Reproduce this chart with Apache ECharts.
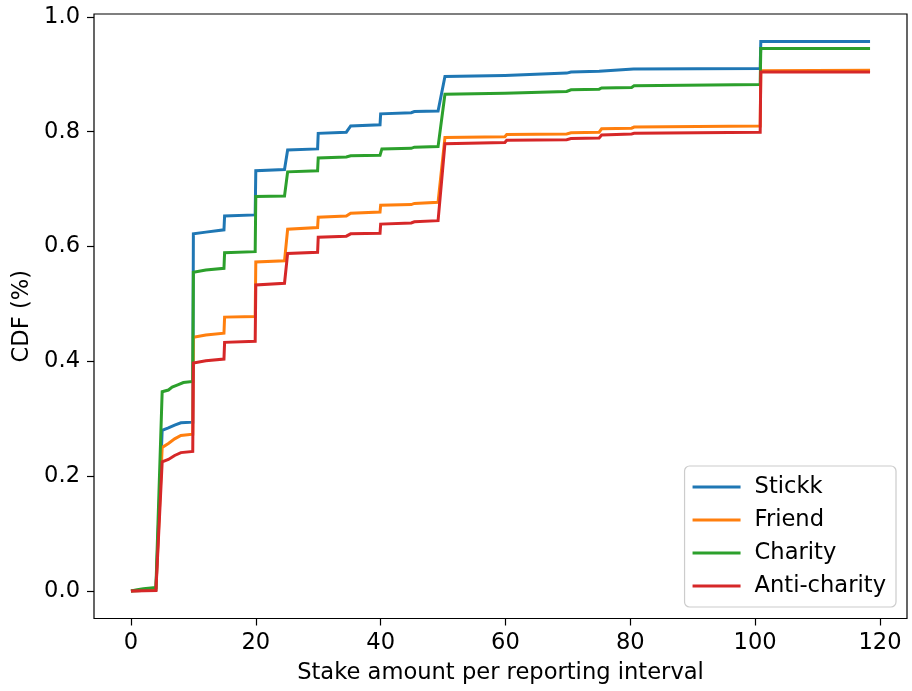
<!DOCTYPE html>
<html>
<head>
<meta charset="utf-8">
<script src="https://cdn.jsdelivr.net/npm/echarts@6/dist/echarts.min.js"></script>
<style>
html,body{margin:0;padding:0;background:#fff;}
#chart{width:912px;height:691px;}
</style>
</head>
<body>
<div id="chart"></div>
<script>
// ---- data (empirical CDF points: [stake amount, cumulative fraction]) ----
const seriesNames = ['Stickk', 'Friend', 'Charity', 'Anti-charity'];
const xTicks = [0, 20, 40, 60, 80, 100, 120];
const yTicks = [0, 0.2, 0.4, 0.6, 0.8, 1.0];

const stickk = [
  [0,0],[4,0.002],[5,0.280],[6,0.284],[7,0.289],[8,0.293],[9.9,0.294],
  [10,0.622],[12,0.625],[14.9,0.629],[15,0.653],[19.9,0.655],
  [20,0.732],[24.6,0.734],[25.1,0.768],[29.9,0.770],
  [30,0.797],[34.5,0.799],[35.2,0.810],[39.9,0.812],
  [40,0.831],[44.9,0.833],[45.4,0.835],[49.2,0.836],
  [50.3,0.896],[59.9,0.898],[60.2,0.900],[69.8,0.902],[70.5,0.904],
  [75,0.905],[75.3,0.908],[80.5,0.909],[100.8,0.910],
  [100.9,0.957],[118.4,0.957]
];
const friend = [
  [0,0],[4,0.002],[5,0.250],[6,0.257],[7,0.265],[8,0.271],[9.9,0.273],
  [10,0.442],[12,0.446],[14.9,0.449],[15,0.477],[19.9,0.478],
  [20,0.573],[24.6,0.575],[25.1,0.630],[29.9,0.633],
  [30,0.651],[34.5,0.653],[35.2,0.658],[39.9,0.660],
  [40,0.672],[44.9,0.673],[45.4,0.675],[49.2,0.677],
  [50.3,0.790],[59.9,0.791],[60.2,0.795],[69.8,0.796],[70.5,0.798],
  [75,0.799],[75.4,0.805],[80.2,0.806],[80.6,0.808],[100.8,0.810],
  [100.9,0.906],[118.4,0.907]
];
const charity = [
  [0,0],[1,0.002],[2,0.004],[4,0.006],[5,0.347],[6,0.350],[6.6,0.355],[7.5,0.359],[8.4,0.363],[9.9,0.365],
  [10,0.555],[12,0.559],[14.9,0.562],[15,0.589],[19.9,0.591],
  [20,0.687],[24.6,0.688],[25.1,0.730],[29.9,0.732],
  [30,0.754],[34.5,0.756],[35.2,0.758],[39.9,0.759],
  [40.2,0.770],[44.9,0.771],[45.4,0.773],[49.2,0.774],
  [50.3,0.865],[59.9,0.867],[60.2,0.869],[69.8,0.870],[70.5,0.873],
  [75,0.874],[75.4,0.876],[80.2,0.877],[80.6,0.880],[100.8,0.882],
  [100.9,0.945],[118.4,0.945]
];
const antiCharity = [
  [0,0],[4,0.001],[5,0.225],[6,0.229],[7,0.236],[8,0.241],[9.9,0.243],
  [10,0.397],[12,0.401],[14.9,0.404],[15,0.433],[19.9,0.435],
  [20,0.533],[24.6,0.536],[25.1,0.588],[29.9,0.590],
  [30,0.616],[34.5,0.618],[35.2,0.622],[39.9,0.623],
  [40,0.639],[44.9,0.641],[45.4,0.643],[49.2,0.645],
  [50.3,0.779],[59.9,0.781],[60.2,0.785],[69.8,0.786],[70.5,0.788],
  [75,0.789],[75.4,0.794],[80.2,0.796],[80.6,0.797],[100.8,0.799],
  [100.9,0.904],[118.4,0.904]
];
const seriesData = [stickk, friend, charity, antiCharity];
const colors = ['#1f77b4', '#ff7f0e', '#2ca02c', '#d62728'];

// ---- chart ----
const FONT = 'DejaVu Sans';
const FS = 22.6;
const chart = echarts.init(document.getElementById('chart'), null, {renderer: 'canvas'});
const xMin = -5.92, xMax = 124.32, yMin = -0.0479, yMax = 1.0049;

chart.setOption({
  animation: false,
  backgroundColor: '#ffffff',
  color: colors,
  grid: {
    left: 94, right: 5, top: 14, bottom: 72.5,
    show: true, borderColor: '#000', borderWidth: 1.2, backgroundColor: 'transparent'
  },
  xAxis: {
    type: 'value', min: xMin, max: xMax, position: 'bottom',
    name: 'Stake amount per reporting interval',
    nameLocation: 'middle', nameGap: 43,
    nameTextStyle: {fontFamily: FONT, fontSize: FS, color: '#000'},
    axisLine: {show: false, onZero: false},
    splitLine: {show: false},
    axisTick: {show: true, customValues: xTicks, length: 7, inside: false,
               lineStyle: {color: '#000', width: 1.2}},
    axisLabel: {show: true, customValues: xTicks, margin: 13,
                fontFamily: FONT, fontSize: FS, color: '#000',
                formatter: v => String(Math.round(v))}
  },
  yAxis: {
    type: 'value', min: yMin, max: yMax, position: 'left',
    name: 'CDF (%)',
    nameLocation: 'middle', nameGap: 60, nameRotate: 90,
    nameTextStyle: {fontFamily: FONT, fontSize: FS, color: '#000'},
    axisLine: {show: false, onZero: false},
    splitLine: {show: false},
    axisTick: {show: true, customValues: yTicks, length: 7, inside: false,
               lineStyle: {color: '#000', width: 1.2}},
    axisLabel: {show: true, customValues: yTicks, margin: 14,
                fontFamily: FONT, fontSize: FS, color: '#000',
                formatter: v => v.toFixed(1)}
  },
  legend: {
    data: seriesNames,
    orient: 'vertical', right: 16, bottom: 84,
    icon: 'rect', itemWidth: 48, itemHeight: 3, itemGap: 9,
    padding: [9, 10, 9, 8],
    backgroundColor: '#fff', borderColor: '#cccccc', borderWidth: 1.2, borderRadius: 5,
    textStyle: {fontFamily: FONT, fontSize: FS, color: '#000', lineHeight: 24, padding: [0, 0, 0, 9]}
  },
  series: seriesNames.map((name, i) => ({
    name: name,
    type: 'line',
    data: seriesData[i],
    showSymbol: false,
    symbol: 'none',
    lineStyle: {width: 3, color: colors[i], cap: 'butt', join: 'miter'},
    itemStyle: {color: colors[i]},
    emphasis: {disabled: true}
  }))
});
</script>
</body>
</html>
